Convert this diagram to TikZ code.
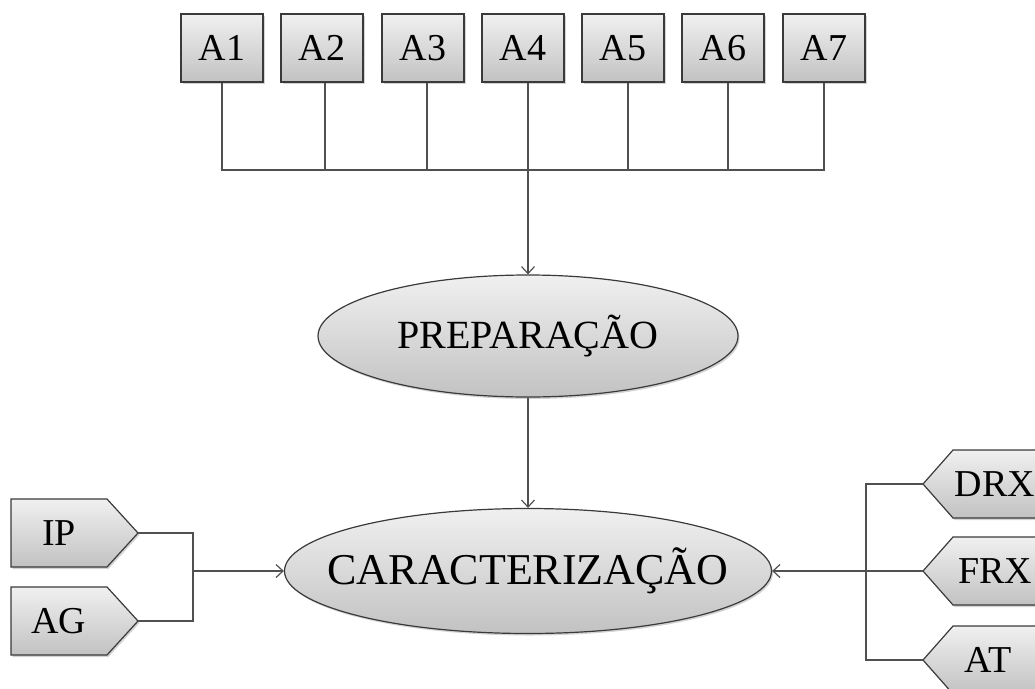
\documentclass[tikz,border=0pt]{standalone}
\usepackage{fontspec}
\setmainfont{Liberation Serif}
\usetikzlibrary{shapes.geometric,shadows,arrows.meta}
\definecolor{edgegray}{HTML}{3A3A3A}
\definecolor{linegray}{HTML}{505050}
\definecolor{topgray}{HTML}{F0F0F0}
\definecolor{botgray}{HTML}{C2C2C2}
\tikzset{
  shadedfill/.style={top color=topgray, bottom color=botgray, draw=edgegray, line width=1.2pt,
    drop shadow={opacity=0.35, shadow xshift=1.5pt, shadow yshift=-2pt}},
  abox/.style={shadedfill, rectangle, minimum width=82pt, minimum height=68pt, inner sep=0pt,
    font=\fontsize{38}{42}\selectfont},
  oval/.style={shadedfill, ellipse, inner sep=0pt},
  lbl/.style={inner sep=0pt, font=\fontsize{38}{42}\selectfont},
  conn/.style={draw=linegray, line width=1.2pt},
  arr/.style={conn, -{Straight Barb[length=7pt,width=13pt,line width=1.2pt]}},
}
\begin{document}
\begin{tikzpicture}[x=1pt,y=-1pt]
\useasboundingbox (0,0) rectangle (1035,688);
\begin{scope}
\clip (0,0) rectangle (1035,688);
% top boxes
\node[abox] (a1) at (222,48) {A1};
\node[abox] (a2) at (322,48) {A2};
\node[abox] (a3) at (423,48) {A3};
\node[abox] (a4) at (523,48) {A4};
\node[abox] (a5) at (623,48) {A5};
\node[abox] (a6) at (723,48) {A6};
\node[abox] (a7) at (824,48) {A7};
\coordinate (bus) at (528,170);
% ellipses
\node[oval, minimum width=420pt, minimum height=122pt, font=\fontsize{40}{44}\selectfont] (prep) at (528,336) {\makebox[0pt][c]{PREPARAÇÃO}};
\node[oval, minimum width=487pt, minimum height=125pt, font=\fontsize{44}{48}\selectfont] (carac) at (528,571) {\makebox[0pt][c]{CARACTERIZAÇÃO}};
% left pentagons
\path[shadedfill] (11,499) -- (107,499) -- (138,533) -- (107,567) -- (11,567) -- cycle;
\node[lbl] (ip) at (59,533) {IP};
\coordinate (iptip) at (138,533);
\path[shadedfill] (11,587) -- (107,587) -- (138,621) -- (107,655) -- (11,655) -- cycle;
\node[lbl] (ag) at (59,621) {AG};
\coordinate (agtip) at (138,621);
\coordinate (ljoin) at (193,571);
% right pentagons
\path[shadedfill] (923,484) -- (953,450) -- (1055,450) -- (1055,518) -- (953,518) -- cycle;
\node[lbl] (drx) at (995,484) {DRX};
\coordinate (drxtip) at (923,484);
\path[shadedfill] (923,571) -- (953,537) -- (1055,537) -- (1055,605) -- (953,605) -- cycle;
\node[lbl] (frx) at (995,571) {FRX};
\coordinate (frxtip) at (923,571);
\path[shadedfill] (923,660) -- (953,626) -- (1055,626) -- (1055,694) -- (953,694) -- cycle;
\node[lbl] (at) at (988,660) {AT};
\coordinate (attip) at (923,660);
\coordinate (rjoin) at (866,571);
% connectors top
\draw[conn] (a1.south) |- (a7.south |- bus) -- (a7.south);
\draw[conn] ([xshift=3pt]a2.south) -- ([xshift=3pt]a2.south |- bus);
\draw[conn] ([xshift=4pt]a3.south) -- ([xshift=4pt]a3.south |- bus);
\draw[conn] ([xshift=5pt]a4.south) -- ([xshift=5pt]a4.south |- bus);
\draw[conn] ([xshift=5pt]a5.south) -- ([xshift=5pt]a5.south |- bus);
\draw[conn] ([xshift=5pt]a6.south) -- ([xshift=5pt]a6.south |- bus);
\draw[arr] (bus) -- (prep.north);
\draw[arr] (prep.south) -- (carac.north);
% left connectors
\draw[conn] (iptip) -| (ljoin) |- (agtip);
\draw[arr] (ljoin) -- (carac.west);
% right connectors
\draw[conn] (drxtip) -| (rjoin) |- (attip);
\draw[conn] (frxtip) -- (rjoin);
\draw[arr] (rjoin) -- (carac.east);
\end{scope}
\end{tikzpicture}
\end{document}
